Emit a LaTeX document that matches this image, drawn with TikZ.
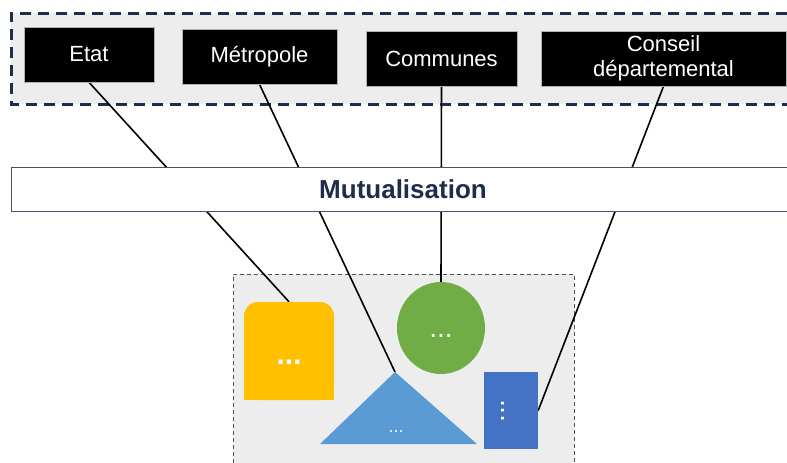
\documentclass[tikz,border=0pt]{standalone}
\usepackage{fontspec}
\setmainfont{Liberation Sans}
\usetikzlibrary{shapes.geometric}
\definecolor{navy}{HTML}{1F2D4D}
\definecolor{boxgray}{HTML}{EDEDED}
\definecolor{yel}{HTML}{FFC000}
\definecolor{grn}{HTML}{70AD47}
\definecolor{lblue}{HTML}{5B9BD5}
\definecolor{dblue}{HTML}{4472C4}
\definecolor{slate}{HTML}{44546A}
\pgfdeclarelayer{bg}
\pgfdeclarelayer{lines}
\pgfsetlayers{bg,lines,main}
\begin{document}
\begin{tikzpicture}[x=1pt,y=-1pt,
 blackbox/.style={fill=black, draw=gray!60, line width=0.6pt, text=white,
   font=\fontsize{22}{25}\selectfont, inner sep=0pt, align=center, minimum height=55pt},
 link/.style={line width=1.6pt, black},
 dotsbig/.style={text=white, font=\bfseries\fontsize{30}{30}\selectfont, inner sep=0pt},
 dotsmid/.style={text=white, font=\fontsize{28}{28}\selectfont, inner sep=0pt},
 dotssmall/.style={text=white, font=\fontsize{18}{18}\selectfont, inner sep=0pt}]
\useasboundingbox (0,0) rectangle (787,463);

% containers
\begin{pgfonlayer}{bg}
  \fill[boxgray] (11,13) rectangle (787,104);
  \draw[navy, line width=3pt, dash pattern=on 11pt off 7pt] (787,13) -- (11,13) -- (11,104) -- (787,104);
  \fill[boxgray] (233,274) rectangle (574,463);
  \draw[slate, line width=1pt, dash pattern=on 4pt off 3pt] (233,470) -- (233,274) -- (574,274) -- (574,470);
\end{pgfonlayer}

% top actors
\node[blackbox, minimum width=130pt] (etat) at (89,54.5) {Etat};
\node[blackbox, minimum width=155pt] (metro) at (259.5,56.5) {Métropole};
\node[blackbox, minimum width=151pt] (communes) at (441.5,58.5) {Communes};
\node[blackbox, minimum width=245pt] (conseil) at (663.5,58.5) {Conseil\\départemental};

% Mutualisation band
\fill[white] (11,167) rectangle (787,211);
\draw[slate, line width=1pt] (787,167) -- (11,167) -- (11,211) -- (787,211);
\node[font=\bfseries\fontsize{26}{26}\selectfont, text=navy] (mut) at (403,189) {Mutualisation};

% shapes
\node[fill=yel, rounded corners=14pt, minimum width=90pt, minimum height=98pt, inner sep=0pt] (yelshape) at (289,351) {};
\fill[yel] (yelshape.west) rectangle (yelshape.south east);
\node[dotsbig] at (289,362) {...};

\node[ellipse, fill=grn, minimum width=88pt, minimum height=92pt, inner sep=0pt] (circ) at (441,328) {};
\node[dotsmid] at (441,336) {...};

\fill[lblue] (320,444) -- (395,372) -- (477,444) -- cycle;
\coordinate (apex) at (395,372);
\node[dotssmall] at (396,432) {...};

\node[fill=dblue, minimum width=54pt, minimum height=77pt, inner sep=0pt] (rect) at (511,410.5) {};
\node[dotsmid, rotate=90] at (503,411) {...};

% connectors
\begin{pgfonlayer}{lines}
  \draw[link] (etat.south) -- (yelshape.north);
  \draw[link] (metro.south) -- (apex);
  \draw[link] (communes.south) -- (circ.north);
  \draw[link] (conseil.south) -- (rect.east);
\end{pgfonlayer}
\end{tikzpicture}
\end{document}
